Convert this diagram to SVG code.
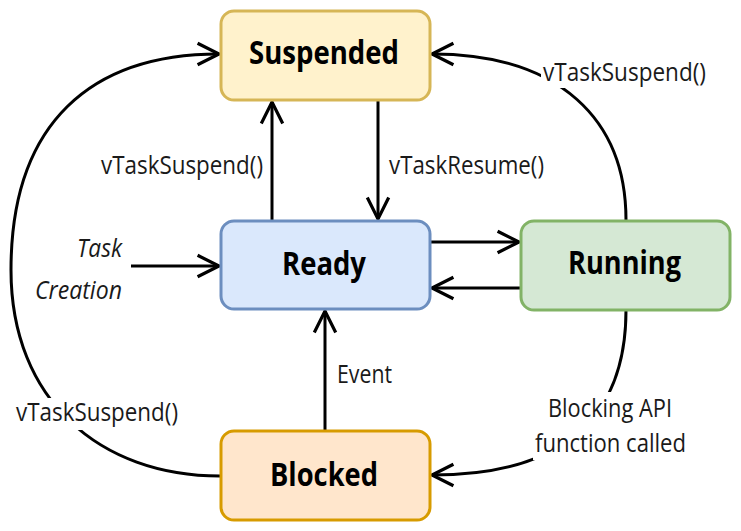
<svg xmlns="http://www.w3.org/2000/svg" width="741" height="531" viewBox="0 0 741 531">
<defs>
<marker id="arr" markerUnits="userSpaceOnUse" markerWidth="30" markerHeight="30" viewBox="-24 -14 28 28" refX="0" refY="0" orient="auto" overflow="visible">
<path d="M -20 -10 L 0 0 L -20 10" fill="none" stroke="#000" stroke-width="3"/>
</marker>
</defs>
<style>
.node{stroke-width:3}
.nt{font-family:"Open Sans","Liberation Sans",sans-serif;font-weight:bold;font-size:33px;fill:#000;text-anchor:middle}
.lb{font-family:"Open Sans","Liberation Sans",sans-serif;font-size:26px;fill:#1a1a1a}
.ln{fill:none;stroke:#000;stroke-width:3}
</style>
<g id="connectors">
<path class="ln" d="M 272 220 L 272 102" marker-end="url(#arr)"/>
<path class="ln" d="M 378 101 L 378 219" marker-end="url(#arr)"/>
<path class="ln" d="M 431 242 L 519 242" marker-end="url(#arr)"/>
<path class="ln" d="M 520 288 L 432 288" marker-end="url(#arr)"/>
<path class="ln" d="M 131 266 L 219 266" marker-end="url(#arr)"/>
<path class="ln" d="M 325 430 L 325 311" marker-end="url(#arr)"/>
<path class="ln" d="M 626 220 C 626 120, 560 54, 432 54" marker-end="url(#arr)"/>
<path class="ln" d="M 220 476 C 100 476, 11 400, 11 270 C 11 122, 92 54, 219 54" marker-end="url(#arr)"/>
<path class="ln" d="M 626 310 C 626 420, 560 475, 432 475" marker-end="url(#arr)"/>
<rect x="541" y="58" width="168" height="30" fill="#fff"/>
<rect x="14" y="398" width="166" height="32" fill="#fff"/>
<rect x="533" y="392" width="156" height="68" fill="#fff"/>
<text class="lb" x="543" y="81" textLength="163" lengthAdjust="spacingAndGlyphs">vTaskSuspend()</text>
<text class="lb" x="101" y="174" textLength="162" lengthAdjust="spacingAndGlyphs">vTaskSuspend()</text>
<text class="lb" x="389" y="174" textLength="155" lengthAdjust="spacingAndGlyphs">vTaskResume()</text>
<text class="lb" x="16" y="421" textLength="162" lengthAdjust="spacingAndGlyphs">vTaskSuspend()</text>
<text class="lb" x="337" y="383" textLength="55" lengthAdjust="spacingAndGlyphs">Event</text>
<text class="lb" x="548" y="417" textLength="124" lengthAdjust="spacingAndGlyphs">Blocking API</text>
<text class="lb" x="535" y="452" textLength="151" lengthAdjust="spacingAndGlyphs">function called</text>
<text class="lb" x="77" y="257" font-style="italic" textLength="45" lengthAdjust="spacingAndGlyphs">Task</text>
<text class="lb" x="35" y="299" font-style="italic" textLength="87" lengthAdjust="spacingAndGlyphs">Creation</text>
</g>
<g id="suspended">
<rect class="node" x="221" y="11" width="209" height="89" rx="13" fill="#fff2cc" stroke="#d6b656"/>
<text class="nt" x="324" y="64" textLength="150" lengthAdjust="spacingAndGlyphs">Suspended</text>
</g>
<g id="ready">
<rect class="node" x="221" y="221" width="209" height="88" rx="13" fill="#dae8fc" stroke="#6c8ebf"/>
<text class="nt" x="324" y="275" textLength="84" lengthAdjust="spacingAndGlyphs">Ready</text>
</g>
<g id="running">
<rect class="node" x="521" y="221" width="209" height="89" rx="13" fill="#d5e8d4" stroke="#82b366"/>
<text class="nt" x="624.5" y="274" textLength="113" lengthAdjust="spacingAndGlyphs">Running</text>
</g>
<g id="blocked">
<rect class="node" x="221" y="431" width="209" height="89" rx="13" fill="#ffe6cc" stroke="#d79b00"/>
<text class="nt" x="324" y="486" textLength="108" lengthAdjust="spacingAndGlyphs">Blocked</text>
</g>
</svg>
